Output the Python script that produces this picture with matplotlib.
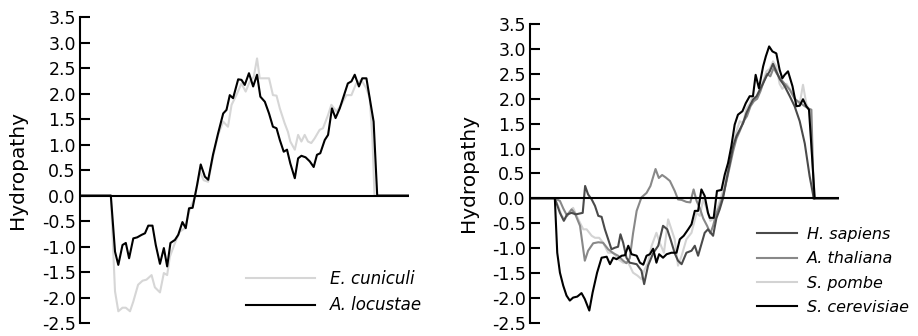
import matplotlib
matplotlib.use("Agg")
import matplotlib.pyplot as plt

plt.rcParams['font.family'] = ['DejaVu Sans']

# ---- left panel: microsporidia ----
ec_pos = [10.3, 11.7, 12.8, 14.2, 15.3, 16.7, 17.8, 19.4, 20.9, 22.2, 23.9, 25.0, 26.7, 28.0, 29.1,
          30.0, 31.7, 33.3, 35.0, 36.7, 38.3, 40.0, 41.3, 42.8, 44.4, 46.1, 47.8, 49.4, 50.6, 52.2,
          53.9, 55.3, 56.7, 58.0, 59.1, 60.0, 61.7, 63.1, 64.4, 65.6, 66.7, 68.3, 69.4, 70.2, 71.7,
          72.8, 73.9, 75.0, 76.1, 77.2, 78.3, 80.0, 81.1, 82.8, 83.9, 85.6, 87.2, 88.9, 90.6, 92.2,
          93.9, 95.6, 96.7, 97.6, 98.3]
ec_val = [0.0, -1.88, -2.27, -2.20, -2.20, -2.27, -2.08, -1.75, -1.67, -1.65, -1.56, -1.80, -1.90, -1.52, -1.56,
          -1.20, -0.93, -0.71, -0.64, -0.26, -0.04, 0.47, 0.30, 0.27, 0.76, 1.19, 1.45, 1.35, 1.78, 1.97,
          2.20, 2.04, 2.24, 2.33, 2.69, 2.30, 2.30, 2.30, 1.97, 1.96, 1.71, 1.42, 1.25, 1.06, 0.90,
          1.19, 1.06, 1.19, 1.06, 1.03, 1.12, 1.29, 1.32, 1.58, 1.78, 1.65, 1.78, 1.97, 1.97, 2.20,
          2.27, 2.10, 1.91, 1.12, 0.0]

al_pos = [0.0, 10.3, 11.7, 12.8, 14.2, 15.3, 16.4, 17.8, 19.1, 20.6, 21.7, 22.8, 24.2, 25.3, 26.7,
          28.0, 29.1, 30.2, 31.7, 32.8, 34.2, 35.3, 36.4, 37.6, 39.1, 40.3, 41.7, 42.8, 44.4, 46.1,
          47.8, 48.9, 50.0, 51.1, 52.8, 53.9, 55.0, 56.4, 57.8, 59.1, 60.2, 61.7, 63.1, 64.4, 65.6,
          66.7, 68.0, 69.1, 70.2, 71.7, 72.8, 73.9, 75.3, 76.7, 78.0, 79.1, 80.2, 81.7, 82.8, 84.1,
          85.3, 86.7, 87.8, 89.4, 90.6, 91.7, 93.1, 94.2, 95.6, 96.7, 98.0, 99.2, 109.8]
al_val = [0.0, 0.0, -1.10, -1.36, -0.97, -0.93, -1.23, -0.84, -0.82, -0.77, -0.74, -0.59, -0.59, -0.97, -1.34,
          -1.03, -1.39, -0.93, -0.87, -0.77, -0.52, -0.64, -0.25, -0.24, 0.21, 0.61, 0.37, 0.31, 0.80, 1.22,
          1.61, 1.68, 1.97, 1.91, 2.28, 2.27, 2.17, 2.40, 2.14, 2.37, 1.94, 1.84, 1.61, 1.35, 1.32,
          1.09, 0.86, 0.90, 0.63, 0.34, 0.73, 0.78, 0.75, 0.67, 0.56, 0.80, 0.83, 1.09, 1.19, 1.71,
          1.52, 1.71, 1.91, 2.20, 2.24, 2.37, 2.14, 2.30, 2.30, 1.91, 1.45, 0.0, 0.0]

# ---- right panel: other eukaryotes ----
sc_pos = [0.0, 8.3, 9.1, 10.0, 11.1, 12.2, 13.3, 14.4, 15.8, 17.2, 18.3, 19.8, 20.9, 22.4, 23.9,
          25.6, 26.7, 27.8, 28.9, 30.6, 31.7, 32.8, 33.9, 35.6, 36.7, 37.8, 38.9, 40.0, 41.1, 42.2,
          43.1, 44.4, 45.6, 47.2, 48.9, 50.0, 51.3, 52.8, 53.9, 55.0, 56.1, 57.2, 58.3, 59.4, 60.0,
          61.3, 62.4, 63.9, 65.0, 66.1, 67.2, 68.3, 69.4, 70.9, 72.0, 73.3, 74.4, 75.3, 76.4, 77.8,
          78.7, 79.8, 80.9, 82.2, 83.3, 84.2, 85.0, 86.1, 87.6, 88.9, 90.0, 91.1, 92.2, 93.1, 93.9,
          95.0, 103.1]
sc_val = [0.0, 0.0, -1.09, -1.49, -1.75, -1.95, -2.05, -1.99, -1.97, -1.90, -2.02, -2.25, -1.89, -1.49, -1.19,
          -1.17, -1.32, -1.19, -1.22, -1.15, -1.14, -0.95, -1.12, -1.15, -1.29, -1.33, -1.15, -1.12, -1.01, -1.29,
          -1.12, -1.19, -1.12, -1.09, -1.09, -0.82, -0.75, -0.62, -0.52, -0.25, -0.25, 0.18, 0.05, -0.29, -0.39,
          -0.39, 0.15, 0.17, 0.48, 0.71, 1.05, 1.48, 1.68, 1.75, 1.91, 2.05, 2.05, 2.48, 2.21, 2.65,
          2.85, 3.05, 2.95, 2.91, 2.58, 2.41, 2.48, 2.55, 2.25, 1.85, 1.86, 1.99, 1.85, 1.78, 1.05,
          0.0, 0.0]

hs_pos = [8.3, 10.0, 11.3, 12.4, 13.9, 15.3, 17.6, 18.4, 19.4, 20.6, 21.7, 22.8, 23.9, 25.0, 26.1,
          27.2, 28.3, 29.4, 30.2, 31.1, 32.2, 33.3, 35.6, 37.2, 38.1, 39.4, 41.1, 42.8, 44.4, 45.8,
          46.9, 48.3, 49.4, 50.6, 52.2, 53.9, 55.0, 56.1, 57.2, 58.3, 59.4, 61.1, 62.2, 63.3, 64.4,
          65.6, 66.7, 67.8, 68.9, 70.0, 71.1, 72.2, 73.3, 74.4, 75.6, 76.7, 77.8, 78.9, 80.0, 81.1,
          82.2, 83.3, 85.0, 86.7, 88.3, 90.0, 91.7, 93.3, 94.7]
hs_val = [0.0, -0.29, -0.45, -0.32, -0.29, -0.32, -0.29, 0.25, 0.08, -0.02, -0.15, -0.35, -0.37, -0.62, -0.82,
          -1.02, -0.99, -0.97, -0.72, -0.89, -1.19, -1.29, -1.32, -1.45, -1.72, -1.35, -1.10, -0.95, -0.55, -0.62,
          -0.82, -1.10, -1.25, -1.32, -1.09, -1.05, -0.95, -1.15, -0.92, -0.69, -0.62, -0.75, -0.40, -0.22, 0.0,
          0.38, 0.71, 1.05, 1.25, 1.38, 1.51, 1.71, 1.85, 1.98, 2.05, 2.18, 2.31, 2.45, 2.55, 2.70,
          2.55, 2.40, 2.25, 2.05, 1.85, 1.55, 1.10, 0.45, 0.0]

at_pos = [8.3, 10.0, 11.1, 12.4, 13.9, 15.0, 16.7, 18.3, 19.4, 21.1, 22.8, 24.4, 26.1, 27.8, 29.4,
          31.1, 32.2, 33.3, 34.4, 35.6, 37.2, 38.9, 40.2, 41.9, 43.0, 44.1, 45.3, 46.7, 48.3, 49.4,
          50.6, 52.2, 53.5, 54.6, 55.6, 56.7, 57.8, 59.1, 60.2, 61.1, 62.2, 63.3, 64.4, 65.6, 66.7,
          67.8, 68.9, 70.0, 71.3, 72.4, 73.6, 74.7, 75.8, 76.9, 78.0, 79.1, 80.2, 81.3, 82.4, 83.6,
          85.0, 86.7, 88.3, 90.0, 91.7, 93.1, 93.9, 94.7]
at_val = [0.0, -0.05, -0.20, -0.35, -0.22, -0.30, -0.55, -1.25, -1.05, -0.90, -0.88, -0.89, -1.02, -1.10, -1.15,
          -1.25, -1.30, -1.20, -0.70, -0.25, 0.02, 0.11, 0.25, 0.59, 0.41, 0.47, 0.42, 0.35, 0.15, -0.02,
          -0.03, -0.07, -0.08, 0.18, -0.05, -0.20, -0.40, -0.55, -0.70, -0.55, -0.30, -0.15, 0.05, 0.35, 0.65,
          0.95, 1.20, 1.35, 1.55, 1.65, 1.85, 1.95, 2.00, 2.15, 2.35, 2.50, 2.45, 2.62, 2.50, 2.40,
          2.30, 2.18, 2.00, 1.92, 1.85, 1.80, 1.78, 0.0]

sp_pos = [8.3, 9.4, 10.6, 11.7, 12.8, 14.4, 15.6, 16.7, 17.8, 18.9, 20.6, 21.7, 23.1, 24.4, 26.1,
          27.8, 29.4, 31.1, 32.8, 34.4, 35.9, 37.2, 38.3, 39.4, 40.6, 42.2, 43.3, 44.7, 46.1, 47.2,
          48.3, 49.4, 50.6, 52.2, 53.9, 55.6, 56.7, 57.8, 58.9, 60.2, 61.3, 62.8, 64.4, 65.6, 66.7,
          67.8, 68.9, 70.0, 71.1, 72.2, 73.3, 74.4, 75.6, 76.7, 77.8, 78.9, 80.0, 81.1, 82.2, 83.3,
          84.2, 85.6, 87.2, 88.9, 90.0, 91.1, 92.2, 93.3, 94.2, 95.0]
sp_val = [0.0, -0.15, -0.35, -0.42, -0.29, -0.19, -0.35, -0.49, -0.62, -0.62, -0.75, -0.79, -0.79, -0.89, -1.09,
          -1.09, -1.22, -1.29, -1.29, -1.49, -1.55, -1.62, -1.42, -1.29, -0.95, -0.69, -0.89, -1.09, -0.42, -0.62,
          -0.82, -1.35, -1.15, -0.82, -0.69, -0.29, -0.35, -0.02, -0.20, -0.45, -0.40, -0.15, 0.15, 0.45, 0.80,
          1.10, 1.35, 1.55, 1.50, 1.80, 1.90, 2.05, 2.00, 2.20, 2.35, 2.55, 2.60, 2.75, 2.65, 2.30,
          2.20, 2.30, 2.15, 1.95, 1.90, 2.28, 1.90, 1.75, 0.80, 0.0]

yticks = [3.5, 3.0, 2.5, 2.0, 1.5, 1.0, 0.5, 0.0, -0.5, -1.0, -1.5, -2.0, -2.5]


def style_axis(ax, xmax):
    ax.set_xlim(0, xmax)
    ax.set_ylim(-2.5, 3.5)
    for s in ['top', 'right', 'bottom']:
        ax.spines[s].set_visible(False)
    ax.spines['left'].set_linewidth(1.5)
    ax.axhline(0, color='black', lw=1.5, zorder=5)
    ax.set_xticks([])
    ax.set_yticks(yticks)
    ax.set_yticklabels(['%.1f' % t for t in yticks])
    ax.tick_params(axis='y', direction='in', length=7, width=1.5, pad=3, labelsize=12.5)
    ax.set_ylabel('Hydropathy', fontsize=14.5)


fig = plt.figure(figsize=(9.18, 3.36), dpi=100)

ax1 = fig.add_axes([0.0871, 0.0387, 0.3584, 0.9103])
ax1.plot(ec_pos, ec_val, color='#d6d6d6', lw=1.5, label='E. cuniculi')
ax1.plot(al_pos, al_val, color='black', lw=1.5, label='A. locustae', zorder=6)
style_axis(ax1, 109.8)
ax1.yaxis.set_label_coords(-0.161, 0.5)
ax1.legend(loc='lower left', bbox_to_anchor=(0.47, -0.01), frameon=False,
           prop={'style': 'italic', 'size': 12}, handlelength=4.1, handletextpad=0.9,
           labelspacing=0.5, borderpad=0.2)

ax2 = fig.add_axes([0.5773, 0.0387, 0.3366, 0.8899])
ax2.plot(sp_pos, sp_val, color='#d3d3d3', lw=1.5, label='S. pombe')
ax2.plot(at_pos, at_val, color='#888888', lw=1.5, label='A. thaliana')
ax2.plot(hs_pos, hs_val, color='#4a4a4a', lw=1.5, label='H. sapiens')
ax2.plot(sc_pos, sc_val, color='black', lw=1.5, label='S. cerevisiae', zorder=6)
style_axis(ax2, 103.1)
ax2.yaxis.set_label_coords(-0.168, 0.5)
h, l = ax2.get_legend_handles_labels()
order = [2, 1, 0, 3]
ax2.legend([h[i] for i in order], [l[i] for i in order], loc='lower left',
           bbox_to_anchor=(0.7, -0.01), frameon=False,
           prop={'style': 'italic', 'size': 11.5}, handlelength=2.5, handletextpad=0.6,
           labelspacing=0.58, borderpad=0.2)

fig.savefig('out.png', dpi=100)
